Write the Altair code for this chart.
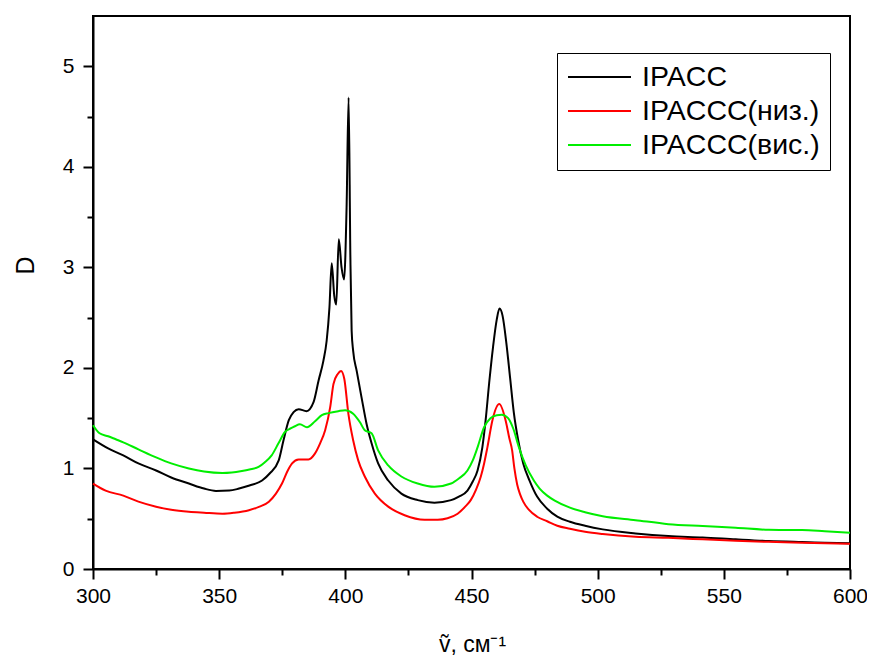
import altair as alt
import pandas as pd

names = ["IPACC", "IPACCC(низ.)", "IPACCC(вис.)"]
colors = ["#000000", "#ff0000", "#00ee00"]

black_x = [300, 306, 312, 318, 325, 331, 338, 344, 348.7, 354, 357.9, 362, 367, 370, 373.6, 375.5,
           377.6, 379.5, 381.5, 384.6, 387.4, 389.4, 391.3, 392.6, 393.7, 394.6, 395.6, 396.4, 397.4,
           398.5, 399.5, 400.5, 401.3, 402.0, 402.5, 403.1, 404.5, 406.4, 408.4, 410.4, 413, 417,
           422.2, 428.7, 435.3, 441.9, 445, 448.4, 450.5, 452.4, 454.3, 455.6, 457, 458.5, 460,
           461.1, 462.3, 463.8, 465.3, 466.8, 468.5, 470.5, 473, 476, 480, 484, 489, 495, 502, 515,
           528, 541.6, 554.7, 567.8, 581, 590, 600]
black_y = [1.29, 1.20, 1.13, 1.05, 0.98, 0.91, 0.85, 0.80, 0.777, 0.78, 0.80, 0.83, 0.88, 0.95, 1.08, 1.28,
           1.48, 1.56, 1.59, 1.57, 1.66, 1.875, 2.07, 2.27, 2.6, 3.04, 2.72, 2.63, 3.28,
           3.0, 2.88, 3.6, 4.69, 3.1, 2.37, 2.17, 1.97, 1.71, 1.445, 1.25, 1.05, 0.88,
           0.75, 0.685, 0.66, 0.685, 0.72, 0.78, 0.87, 0.98, 1.21, 1.48, 1.85, 2.2, 2.48,
           2.59, 2.52, 2.25, 1.9, 1.55, 1.28, 1.05, 0.88, 0.72, 0.60, 0.52, 0.47, 0.43, 0.394, 0.354,
           0.327, 0.314, 0.295, 0.278, 0.268, 0.262, 0.255]

red_x = [300, 305, 312, 318, 325, 331, 338, 344, 351.3, 356, 361.8, 366, 369.7, 372.5, 374.9, 377,
         378.9, 381.5, 385.4, 388, 390, 392, 394, 395.3, 397, 398.3, 399.6, 401.2, 403.1, 405.1,
         407.7, 411.7, 417, 423.5, 431.4, 436.6, 440.5, 444.5, 447.5, 449.7, 451.8, 453.7, 455,
         456.3, 458.3, 461, 463.5, 465, 466.1, 467, 468.1, 469.3, 470.5, 472.7, 476, 480, 484, 489,
         495, 502, 515, 528, 541.6, 554.7, 567.8, 581, 600]
red_y = [0.85, 0.78, 0.73, 0.67, 0.62, 0.59, 0.57, 0.56, 0.55, 0.56, 0.585, 0.62, 0.67, 0.75, 0.85, 0.97,
         1.05, 1.09, 1.09, 1.15, 1.25, 1.38, 1.61, 1.84, 1.94, 1.97, 1.89, 1.545, 1.28, 1.08,
         0.92, 0.75, 0.62, 0.535, 0.49, 0.49, 0.505, 0.55, 0.62, 0.685, 0.79, 0.92, 1.05,
         1.21, 1.48, 1.64, 1.48, 1.3, 1.18, 1.0, 0.84, 0.74, 0.67, 0.59, 0.52, 0.475, 0.43, 0.40,
         0.37, 0.347, 0.32, 0.31, 0.295, 0.28, 0.27, 0.26, 0.25]

green_x = [300, 302.6, 306, 309, 312, 318, 325, 331, 338, 344, 351.3, 355, 359, 362, 365.6, 368,
           370.8, 373.5, 376, 378.5, 380, 382, 384.8, 388, 390.7, 393.3, 397.2, 399.9, 403.1,
           405.8, 407.7, 410.4, 413, 417, 422.2, 428.7, 435.3, 441.9, 445, 448.4, 450.5, 452.4,
           455, 457.5, 460, 462, 464.5, 466.5, 468.8, 471.5, 474.7, 477, 480, 483, 489, 495, 502,
           515, 528, 541.6, 554.7, 567.8, 581, 590, 600]
green_y = [1.43, 1.35, 1.32, 1.29, 1.26, 1.19, 1.11, 1.05, 1.0, 0.97, 0.955, 0.96, 0.975, 0.99, 1.015, 1.06,
           1.13, 1.25, 1.36, 1.40, 1.42, 1.44, 1.41, 1.47, 1.53, 1.55, 1.57, 1.58, 1.545,
           1.46, 1.38, 1.35, 1.18, 1.03, 0.92, 0.85, 0.817, 0.85, 0.9, 0.98, 1.08, 1.21,
           1.41, 1.50, 1.53, 1.535, 1.5, 1.4, 1.21, 1.03, 0.88, 0.80, 0.73, 0.68, 0.61, 0.565, 0.525,
           0.486, 0.446, 0.427, 0.41, 0.39, 0.387, 0.375, 0.36]

x_major = [300, 350, 400, 450, 500, 550, 600]
x_minor = [325, 375, 425, 475, 525, 575]
y_major = [0, 1, 2, 3, 4, 5]
y_minor = [0.5, 1.5, 2.5, 3.5, 4.5]

frames = []
for name, xs, ys in zip(names, [black_x, red_x, green_x], [black_y, red_y, green_y]):
    frames.append(pd.DataFrame({"nu": xs, "D": ys, "series": name}))
df = pd.concat(frames, ignore_index=True)

FONT = "Liberation Sans"
xscale = alt.Scale(domain=[300, 600], nice=False, zero=False)
yscale = alt.Scale(domain=[0, 5.5], nice=False)

base = alt.Chart(df)

main = base.mark_line(strokeWidth=2, interpolate="monotone").encode(
    x=alt.X("nu:Q", scale=xscale,
            axis=alt.Axis(values=x_major, format="d", orient="bottom", labelFlush=False,
                          tickSize=10, labelPadding=6,
                          title="ṽ, см⁻¹", titleFontSize=23, titleFontWeight="normal",
                          titleBaseline="alphabetic", titleY=82, titleX=379)),
    y=alt.Y("D:Q", scale=yscale,
            axis=alt.Axis(values=y_major, format="d", orient="left", labelFlush=False,
                          tickSize=10, labelPadding=9,
                          title="D", titleFontSize=25, titleFontWeight="normal",
                          titleAngle=270, titleBaseline="alphabetic", titleAlign="center",
                          titleX=-60, titleY=249)),
    color=alt.Color("series:N",
                    scale=alt.Scale(domain=names, range=colors),
                    legend=alt.Legend(title=None, orient="none", legendX=464, legendY=37,
                                      symbolType="stroke", symbolSize=3969, symbolStrokeWidth=2,
                                      labelFontSize=28.5, labelFont=FONT, labelColor="black",
                                      labelOffset=10, labelLimit=0,
                                      clipHeight=28, rowPadding=5, padding=10,
                                      fillColor="white", strokeColor="black")),
    detail="series:N",
    order="nu:Q",
)

minor = base.mark_line(strokeOpacity=0).encode(
    x=alt.X("nu:Q", scale=xscale,
            axis=alt.Axis(values=x_minor, orient="bottom", labels=False, domain=False,
                          tickSize=6, title=None)),
    y=alt.Y("D:Q", scale=yscale,
            axis=alt.Axis(values=y_minor, orient="left", labels=False, domain=False,
                          tickSize=6, title=None)),
    detail="series:N",
)

chart = alt.layer(main, minor).resolve_axis(
    x="independent", y="independent"
).properties(
    width=757, height=553,
    autosize=alt.AutoSizeParams(type="none"),
    padding={"left": 85, "top": 8, "right": 17, "bottom": 88},
).configure_view(
    stroke="black", strokeWidth=2
).configure_axis(
    grid=False, domainColor="black", domainWidth=2, tickColor="black", tickWidth=2,
    labelFont=FONT, labelFontSize=21, labelColor="black",
    titleFont=FONT, titleColor="black",
)

chart.save("out.html", embed_options={"renderer": "svg", "actions": False})
